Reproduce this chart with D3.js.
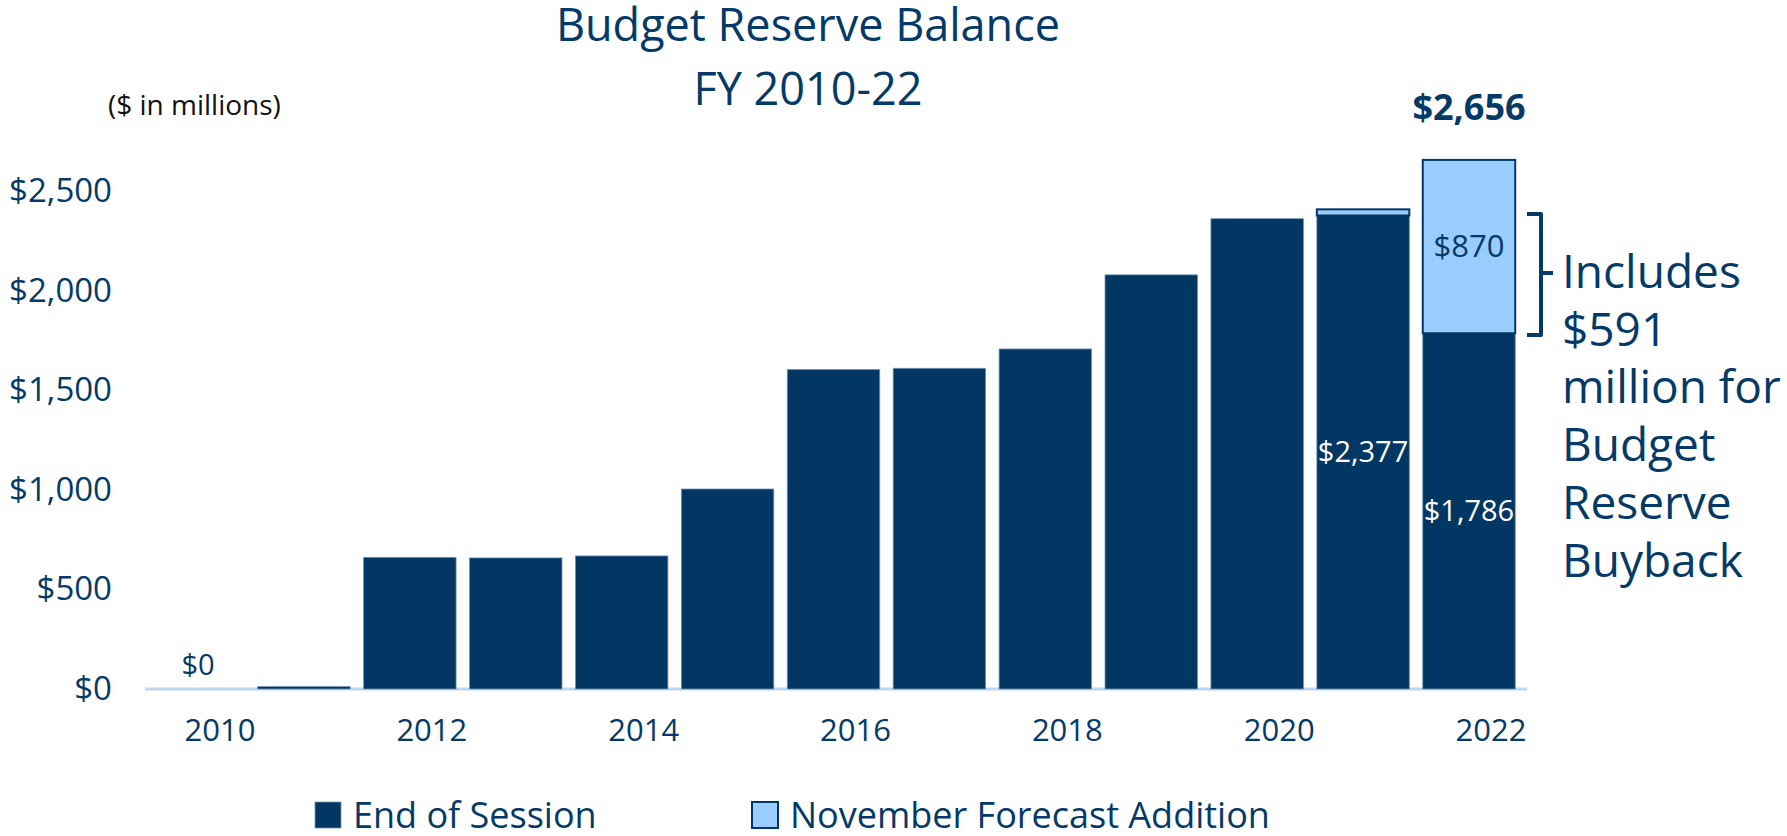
<!DOCTYPE html>
<html>
<head>
<meta charset="utf-8">
<script src="https://cdn.jsdelivr.net/npm/d3@7"></script>
<style>
  body { margin: 0; background: #fff; }
  svg { display: block; font-family: "Open Sans", "Noto Sans", sans-serif; }
</style>
</head>
<body>
<div id="chart"></div>
<script>
// Budget reserve balance, $ in millions
const years = [2010, 2011, 2012, 2013, 2014, 2015, 2016, 2017, 2018, 2019, 2020, 2021, 2022];
const endOfSession = [0, 12, 661, 658, 668, 1004, 1604, 1610, 1707, 2079, 2361, 2377, 1786];
const novemberAddition = [0, 0, 0, 0, 0, 0, 0, 0, 0, 0, 0, 31, 870];
const yTicks = [0, 500, 1000, 1500, 2000, 2500];
const xTickYears = [2010, 2012, 2014, 2016, 2018, 2020, 2022];
const seriesNames = ['End of Session', 'November Forecast Addition'];
const annotationLines = ['Includes', '$591', 'million for', 'Budget', 'Reserve', 'Buyback'];

const W = 1787, H = 836;
const dark = '#023763', light = '#99CCFF', ink = '#053A68';

const data = years.map((y, i) => ({ year: y, end: endOfSession[i], add: novemberAddition[i] }));

const svg = d3.select('#chart').append('svg')
    .attr('width', W)
    .attr('height', H);

// Scales
const x = d3.scaleBand()
    .domain(years)
    .range([145, 1522])
    .paddingInner(0.127)
    .paddingOuter(0.064);

const y = d3.scaleLinear()
    .domain([0, 2500])
    .range([689, 191]);

// Title
svg.append('text')
    .attr('x', 808).attr('y', 41)
    .attr('text-anchor', 'middle')
    .attr('fill', ink)
    .style('font-size', '45px')
    .text('Budget Reserve Balance');
svg.append('text')
    .attr('x', 808).attr('y', 105)
    .attr('text-anchor', 'middle')
    .attr('fill', ink)
    .style('font-size', '45px')
    .text('FY 2010-22');

svg.append('text')
    .attr('x', 108).attr('y', 115)
    .attr('fill', '#111')
    .style('font-size', '28px')
    .text('($ in millions)');

// Y axis labels
const yAxis = svg.append('g')
    .attr('transform', 'translate(112,0)')
    .call(d3.axisLeft(y)
        .tickValues(yTicks)
        .tickSize(0)
        .tickPadding(0)
        .tickFormat(d => '$' + d3.format(',')(d)));
yAxis.select('.domain').remove();
yAxis.selectAll('text')
    .attr('fill', ink)
    .style('font-family', '"Open Sans", sans-serif')
    .style('font-size', '33px');

// X axis labels (offset to the right as in the original)
const xAxis = svg.append('g')
    .attr('transform', `translate(22,${y(0)})`)
    .call(d3.axisBottom(x)
        .tickValues(xTickYears)
        .tickSize(0)
        .tickPadding(30));
xAxis.select('.domain').remove();
xAxis.selectAll('text')
    .attr('fill', ink)
    .style('font-family', '"Open Sans", sans-serif')
    .style('font-size', '31px');

// Baseline
svg.append('line')
    .attr('x1', 145).attr('x2', 1527)
    .attr('y1', y(0)).attr('y2', y(0))
    .attr('stroke', '#BDD7EE')
    .attr('stroke-width', 3);

// Bars: end of session
svg.selectAll('.bar-end')
    .data(data.filter(d => d.end > 0))
    .enter()
    .append('rect')
    .attr('class', 'bar-end')
    .attr('x', d => x(d.year))
    .attr('y', d => y(d.end))
    .attr('width', x.bandwidth())
    .attr('height', d => y(0) - y(d.end))
    .attr('fill', dark)
    .attr('stroke', '#7393B3')
    .attr('stroke-width', 0.8);

// Bars: November forecast addition
svg.selectAll('.bar-add')
    .data(data.filter(d => d.add > 0))
    .enter()
    .append('rect')
    .attr('class', 'bar-add')
    .attr('x', d => x(d.year))
    .attr('y', d => y(d.end + d.add))
    .attr('width', x.bandwidth())
    .attr('height', d => y(d.end) - y(d.end + d.add))
    .attr('fill', light)
    .attr('stroke', dark)
    .attr('stroke-width', 2);

// Data labels
const cx = d => x(d.year) + x.bandwidth() / 2;
const d2010 = data[0], d2021 = data[11], d2022 = data[12];
const fmt = v => '$' + d3.format(',')(v);

svg.append('text')
    .attr('x', cx(d2010)).attr('y', y(d2010.end) - 14)
    .attr('text-anchor', 'middle')
    .attr('fill', ink)
    .style('font-size', '29px')
    .text(fmt(d2010.end));

svg.append('text')
    .attr('x', cx(d2021)).attr('y', (y(0) + y(d2021.end)) / 2)
    .attr('dy', '0.35em')
    .attr('text-anchor', 'middle')
    .attr('fill', '#fff')
    .style('font-size', '29px')
    .text(fmt(d2021.end));

svg.append('text')
    .attr('x', cx(d2022)).attr('y', (y(0) + y(d2022.end)) / 2)
    .attr('dy', '0.35em')
    .attr('text-anchor', 'middle')
    .attr('fill', '#fff')
    .style('font-size', '29px')
    .text(fmt(d2022.end));

svg.append('text')
    .attr('x', cx(d2022)).attr('y', (y(d2022.end) + y(d2022.end + d2022.add)) / 2)
    .attr('dy', '0.35em')
    .attr('text-anchor', 'middle')
    .attr('fill', ink)
    .style('font-size', '31px')
    .text(fmt(d2022.add));

svg.append('text')
    .attr('x', cx(d2022)).attr('y', y(d2022.end + d2022.add) - 40)
    .attr('text-anchor', 'middle')
    .attr('fill', ink)
    .style('font-size', '36px')
    .style('font-weight', '700')
    .text(fmt(d2022.end + d2022.add));

// Bracket annotation
const bTop = 214, bBot = 335, bMid = 273;
svg.append('path')
    .attr('d', `M1527,${bTop} H1541 V${bBot} H1527 M1541,${bMid} H1553`)
    .attr('fill', 'none')
    .attr('stroke', ink)
    .attr('stroke-width', 4)
    .attr('stroke-linejoin', 'round');

svg.append('g')
    .selectAll('text')
    .data(annotationLines)
    .enter()
    .append('text')
    .attr('x', 1562)
    .attr('y', (d, i) => 288 + i * 57.7)
    .attr('fill', ink)
    .style('font-size', '46px')
    .text(d => d);

// Legend
const legend = svg.append('g');
const legendX = [315, 752];
seriesNames.forEach((name, i) => {
    legend.append('rect')
        .attr('x', legendX[i]).attr('y', 802)
        .attr('width', 26).attr('height', 26)
        .attr('fill', i === 0 ? dark : light)
        .attr('stroke', i === 0 ? '#7393B3' : dark)
        .attr('stroke-width', i === 0 ? 0.8 : 2);
    legend.append('text')
        .attr('x', legendX[i] + 38).attr('y', 828)
        .attr('fill', ink)
        .style('font-size', '36px')
        .text(name);
});
</script>
</body>
</html>
